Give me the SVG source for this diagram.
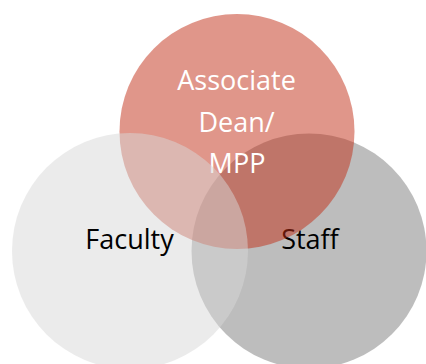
<svg xmlns="http://www.w3.org/2000/svg" width="426" height="364" viewBox="0 0 426 364">
<style>
.c{fill-opacity:0.5}
.t{font-family:"Open Sans","Noto Sans","Liberation Sans",sans-serif;font-size:27px;text-anchor:middle}
.dark{fill:#000000}
.light{fill:#FFFFFF}
</style>
<rect width="426" height="364" fill="#FFFFFF"/>
<g id="staff">
<circle class="c" cx="309" cy="251" r="117.5" fill="#7B7B7B"/>
<text class="t dark" x="310" y="249">Staff</text>
</g>
<g id="associate-dean-mpp">
<circle class="c" cx="237" cy="131.5" r="117.5" fill="#C12D15"/>
<text class="t light" x="236.5" y="90">Associate</text>
<text class="t light" x="236.5" y="131.5">Dean/</text>
<text class="t light" x="237" y="173">MPP</text>
</g>
<g id="faculty">
<circle class="c" cx="130" cy="251" r="118" fill="#D7D7D7"/>
<text class="t dark" x="129.5" y="249">Faculty</text>
</g>
<g id="connectors"/>
</svg>
